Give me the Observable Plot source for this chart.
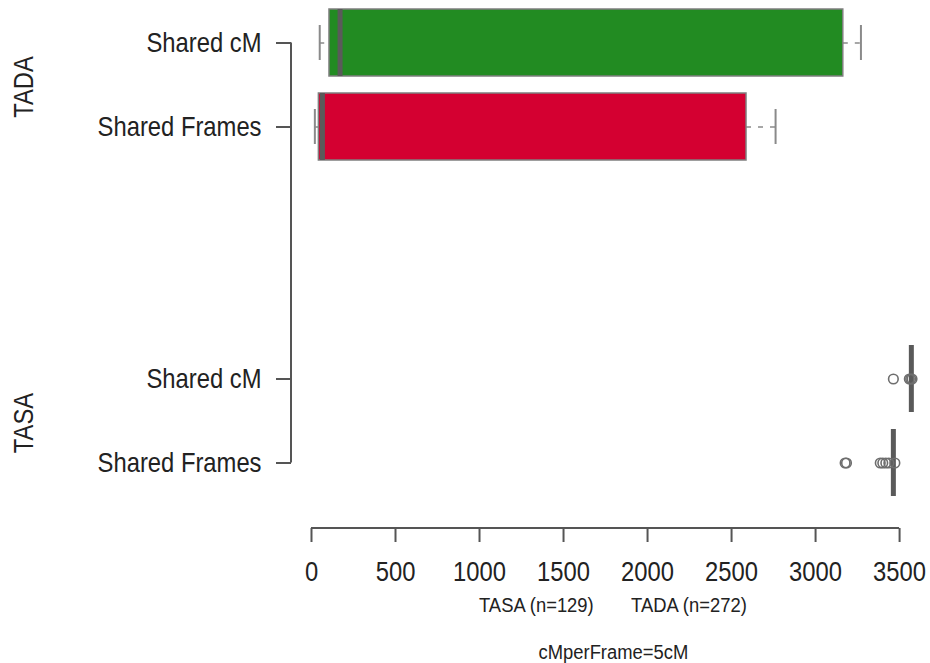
<!DOCTYPE html>
<html>
<head>
<meta charset="utf-8">
<script src="https://cdn.jsdelivr.net/npm/d3@7"></script>
<script src="https://cdn.jsdelivr.net/npm/@observablehq/plot@0.6"></script>
<style>
  body { margin: 0; background: #fff; }
  #chart {
    position: relative; width: 930px; height: 663px;
    font-family: "Liberation Sans", Arial, sans-serif;
    color: #222;
  }
  .caption {
    position: absolute; left: 291px; width: 644px;
    text-align: center; font-size: 20px; line-height: 24px; white-space: nowrap;
  }
  /* narrow lettering, like a condensed Helvetica */
  .caption .narrow { display: inline-block; transform: scaleX(0.92); transform-origin: center; }
  .caption .narrow + .narrow { margin-left: 28px; }
</style>
</head>
<body>
<div id="chart"></div>
<script>
// Groups (one block of boxes each) and the two measures compared inside each group
const groups = ["TADA", "TASA"];
const groupSizes = [272, 129];
const measures = ["Shared cM", "Shared Frames"];
const measureFills = ["#228B22", "#D40031"];

// Five-number summaries, one entry per box: TADA cM, TADA Frames, TASA cM, TASA Frames
const whiskerLow  = [49, 20, 3570, 3463];
const quartile1   = [107, 44, 3570, 3463];
const medians     = [170, 65, 3570, 3463];
const quartile3   = [3165, 2589, 3570, 3463];
const whiskerHigh = [3270, 2762, 3570, 3463];
const outliers = [
  [],
  [],
  [3463, 3558, 3566, 3574],
  [3176, 3184, 3385, 3400, 3418, 3436, 3472]
];

const xTicks = [0, 500, 1000, 1500, 2000, 2500, 3000, 3500];
const captionOrder = ["TASA", "TADA"];
const footnote = "cMperFrame=5cM";

// One record per box
const boxes = groups.flatMap((group, gi) => measures.map((measure, mi) => {
  const i = gi * measures.length + mi;
  return {
    key: `${group} · ${measure}`, group, measure, fill: measureFills[mi],
    lo: whiskerLow[i], q1: quartile1[i], med: medians[i], q3: quartile3[i], hi: whiskerHigh[i]
  };
}));
const boxKeys = boxes.map(d => d.key);
const outlierPoints = boxes.flatMap((d, i) => outliers[i].map(v => ({key: d.key, value: v})));
const measureOf = new Map(boxes.map(d => [d.key, d.measure]));

// Band slots: the two groups are separated by two empty slots
const yDomain = [
  ...boxKeys.filter(k => k.startsWith(groups[0])),
  "slot-a", "slot-b",
  ...boxKeys.filter(k => k.startsWith(groups[1]))
];
const groupLabels = groups.map(g => ({group: g, key: boxKeys.find(k => k.startsWith(g))}));

// Axis lines running from the first to the last tick, as in base graphics
function axisLines(index, {x, y}, values, {height, marginLeft, marginBottom}) {
  const g = d3.create("svg:g")
    .attr("fill", "none").attr("stroke", "#555").attr("stroke-width", 2);
  const yb = height - marginBottom;
  g.append("path").attr("d", `M${x(xTicks[0])},${yb}H${x(xTicks[xTicks.length - 1])}`);
  const half = y.bandwidth() / 2;
  g.append("path").attr("d", `M${marginLeft},${y(boxKeys[0]) + half}V${y(boxKeys[boxKeys.length - 1]) + half}`);
  return g.node();
}

const plot = Plot.plot({
  width: 930,
  height: 593,
  marginLeft: 291,
  marginRight: 0,
  marginTop: 8,
  marginBottom: 65,
  style: {
    fontFamily: '"Liberation Sans", Arial, sans-serif',
    fontSize: "28px",
    color: "#222",
    background: "#fff"
  },
  x: {domain: [-119, 3684], axis: null},
  y: {domain: yDomain, paddingInner: 0.2, paddingOuter: 0, insetBottom: 30, axis: null},
  marks: [
    // whiskers
    Plot.ruleY(boxes, {y: "key", x1: "lo", x2: "q1", stroke: "#8a8a8a", strokeWidth: 1.5, strokeDasharray: "5,7"}),
    Plot.ruleY(boxes, {y: "key", x1: "q3", x2: "hi", stroke: "#8a8a8a", strokeWidth: 1.5, strokeDasharray: "5,7"}),
    // whisker caps
    Plot.tickX(boxes, {y: "key", x: "lo", stroke: "#8a8a8a", strokeWidth: 2, insetTop: 16, insetBottom: 16}),
    Plot.tickX(boxes, {y: "key", x: "hi", stroke: "#8a8a8a", strokeWidth: 2, insetTop: 16, insetBottom: 16}),
    // boxes
    Plot.barX(boxes, {y: "key", x1: "q1", x2: "q3", fill: "fill", stroke: "#7f7f7f", strokeWidth: 1.5}),
    // medians
    Plot.tickX(boxes, {y: "key", x: "med", stroke: "#5a5a5a", strokeWidth: 5}),
    // outliers
    Plot.dot(outlierPoints, {y: "key", x: "value", r: 4.8, stroke: "#6e6e6e", strokeWidth: 1.6, fill: "none"}),
    // axes
    Plot.axisX({ticks: xTicks, tickSize: 14, tickPadding: 19, tickFormat: d => `${d}`, stroke: "#555", strokeWidth: 2, label: null}),
    Plot.axisY({ticks: boxKeys, tickSize: 15, tickPadding: 15, tickFormat: k => measureOf.get(k), stroke: "#555", strokeWidth: 2, label: null}),
    axisLines,
    // group names on the far left
    Plot.text(groupLabels, {y: "key", text: "group", frameAnchor: "left", textAnchor: "middle", rotate: -90, dx: -267, dy: 44, fontSize: 28})
  ]
});

// Condense the lettering along its baseline (a narrow sans face)
d3.select(plot).selectAll("text").each(function() {
  const t = this.getAttribute("transform") || "";
  this.setAttribute("transform", `${t} scale(0.85,1)`);
});

const chart = document.getElementById("chart");
chart.append(plot);

const cap = document.createElement("div");
cap.className = "caption";
cap.style.top = "593px";
for (const g of captionOrder) {
  const s = document.createElement("span");
  s.className = "narrow";
  s.textContent = `${g} (n=${groupSizes[groups.indexOf(g)]})`;
  cap.append(s);
}
chart.append(cap);

const foot = document.createElement("div");
foot.className = "caption";
foot.style.top = "640px";
const fs = document.createElement("span");
fs.className = "narrow";
fs.textContent = footnote;
foot.append(fs);
chart.append(foot);
</script>
</body>
</html>
